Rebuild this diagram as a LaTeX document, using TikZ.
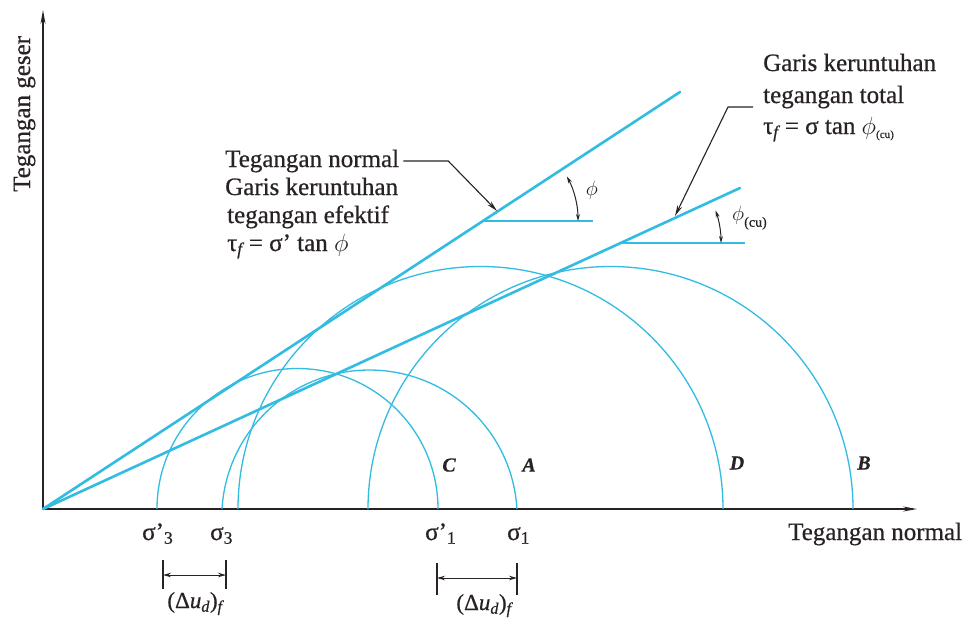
\documentclass[tikz,border=0pt]{standalone}
\usepackage{fontspec}
\setmainfont{Liberation Serif}[FakeBold=0.6]
\usetikzlibrary{arrows.meta}
\definecolor{cy}{RGB}{50,188,225}
\definecolor{ink}{RGB}{40,34,38}
\begin{document}
\begin{tikzpicture}[x=1pt,y=-1pt,
  txt/.style={font=\fontsize{25}{28}\selectfont, text=ink, inner sep=0pt},
  smalltxt/.style={font=\fontsize{23}{26}\selectfont, text=ink, inner sep=0pt},
  ltr/.style={font=\fontsize{20}{24}\selectfont\bfseries\itshape, text=ink, inner sep=0pt},
  phitxt/.style={font=\fontsize{21}{24}\selectfont, text=ink, inner sep=0pt},
  envline/.style={draw=cy, line width=2.6pt, line cap=round},
  mohr/.style={draw=cy, line width=1.3pt},
  axisarrow/.style={draw=ink, line width=1.3pt, -{Stealth[length=14pt,width=5pt]}},
  leader/.style={draw=ink, line width=1.1pt, -{Stealth[length=11pt,width=5pt]}},
  dimbar/.style={draw=ink, line width=1.3pt},
  dimarr/.style={draw=ink, line width=1pt, {Stealth[length=8pt,width=4.5pt]}-{Stealth[length=8pt,width=4.5pt]}},
  angarr/.style={draw=ink, line width=1pt, {Stealth[length=7pt,width=4pt]}-{Stealth[length=7pt,width=4pt]}},
  anghor/.style={draw=cy, line width=1.3pt}
]
\useasboundingbox (0,0) rectangle (971,624);
\fill[white] (0,0) rectangle (971,624);

% axes
\coordinate (O) at (43,509);
\coordinate (Ytip) at (43,10);
\coordinate (Xtip) at (917,509);
\draw[axisarrow] (O) -- (Ytip);
\draw[axisarrow] (O) -- (Xtip);

% Mohr circles
\draw[mohr] (157,509) arc[start angle=180,end angle=360,radius=140.5];   % C
\draw[mohr] (222,509) arc[start angle=183.4,end angle=356.6,radius=147.75]; % A
\draw[mohr] (238,509) arc[start angle=180,end angle=360,radius=242.5];   % D
\draw[mohr] (368,509) arc[start angle=180,end angle=360,radius=242.5];   % B

% failure envelopes
\coordinate (E1) at (680,92);
\coordinate (E2) at (740,188);
\draw[envline] (O) -- (E1);
\draw[envline] (O) -- (E2);

% angle markers
\coordinate (P1) at (483,221);
\coordinate (P2) at (621,243);
\coordinate (H1) at (593,221);
\coordinate (H2) at (745,243);
\draw[anghor] (P1) -- (H1);
\draw[anghor] (P2) -- (H2);
\draw[angarr] (578,221) arc[start angle=0,end angle=-28,radius=95];
\draw[angarr] (721,243) arc[start angle=0,end angle=-19,radius=100];
\node[phitxt] (phi1) at (592,190) {$\phi$};
\node[phitxt, anchor=west] (phi2) at (732,218) {$\phi$\raisebox{-6pt}{\fontsize{14}{15}\selectfont(cu)}};

% left text block
\node[txt, anchor=base west] (ltn) at (225,167) {Tegangan normal};
\node[txt, anchor=base west] (lgk) at (225,195) {Garis keruntuhan};
\node[txt, anchor=base west] (lte) at (227,223) {tegangan efektif};
\node[txt, anchor=base west] (lfe) at (227,251) {τ\textsubscript{\itshape f} = σ' tan $\phi$};
\coordinate (T1) at (497,211);
\draw[leader] ([xshift=4pt]ltn.east) -- ++(45,0) -- (T1);

% right text block
\node[txt, anchor=base west] (rgk) at (763,71) {Garis keruntuhan};
\node[txt, anchor=base west] (rtt) at (763,103) {tegangan total};
\node[txt, anchor=base west] (rft) at (763,134) {τ\textsubscript{\itshape f} = σ tan $\phi$\raisebox{-4pt}{\fontsize{11}{12}\selectfont(cu)}};
\coordinate (T2) at (675,216);
\coordinate (R0) at (753,107);
\draw[leader] (R0) -- ++(-25,0) -- (T2);

% axis labels
\node[txt, rotate=90, anchor=base west] (ylab) at (30,192) {Tegangan geser};
\node[txt, anchor=base west] (xlab) at (788,540) {Tegangan normal};

% circle letters
\node[ltr] (lC) at (449,465) {C};
\node[ltr] (lA) at (529,465) {A};
\node[ltr] (lD) at (737,463) {D};
\node[ltr] (lB) at (864,463) {B};

% stress labels
\node[txt, anchor=base west] (s3p) at (142,540) {σ'\textsubscript{3}};
\node[txt, anchor=base west] (s3) at (210,540) {σ\textsubscript{3}};
\node[txt, anchor=base west] (s1p) at (425,540) {σ'\textsubscript{1}};
\node[txt, anchor=base west] (s1) at (507,540) {σ\textsubscript{1}};

% pore pressure dimensions
\draw[dimbar] (163,560) -- (163,589);
\draw[dimbar] (226,560) -- (226,589);
\coordinate (d1a) at (163,575);
\coordinate (d1b) at (226,575);
\draw[dimarr] (d1a) -- (d1b);
\node[smalltxt, anchor=base] (du1) at (195,608) {(Δ\textit{u}\textsubscript{\itshape d})\textsubscript{\itshape f}};

\draw[dimbar] (437,563) -- (437,595);
\draw[dimbar] (517,563) -- (517,595);
\coordinate (d2a) at (437,578);
\coordinate (d2b) at (517,578);
\draw[dimarr] (d2a) -- (d2b);
\node[smalltxt, anchor=base] (du2) at (484,610) {(Δ\textit{u}\textsubscript{\itshape d})\textsubscript{\itshape f}};
\end{tikzpicture}
\end{document}
